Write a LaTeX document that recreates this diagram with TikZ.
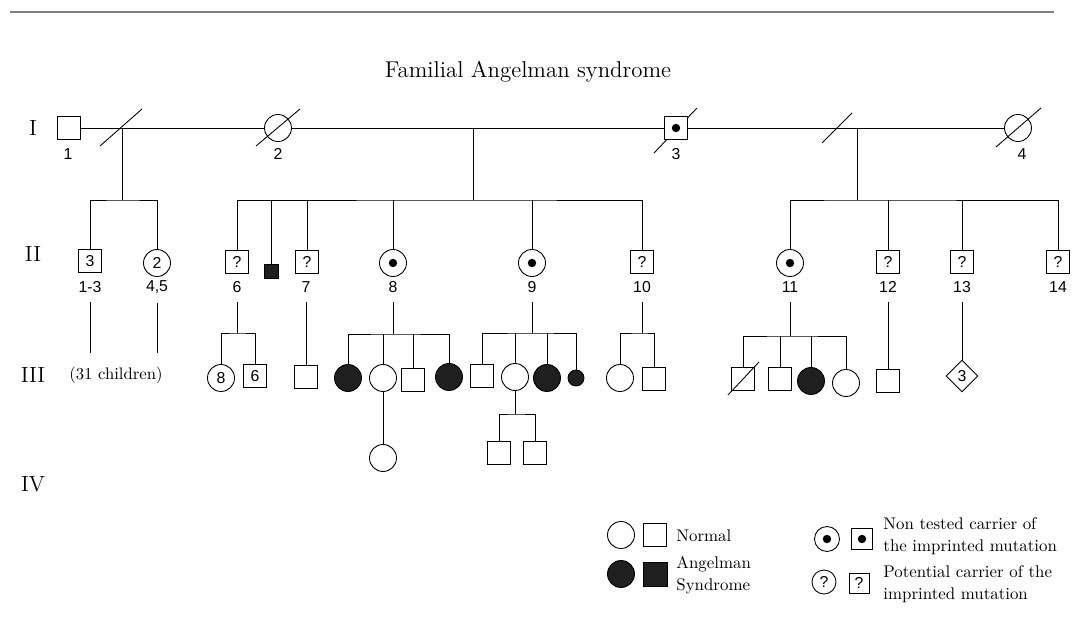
\documentclass[tikz,border=0pt]{standalone}
\usepackage{fontspec}
\newfontfamily\numfont{Liberation Sans}
\usepackage{tikz}
\usetikzlibrary{calc, shapes.geometric}

\begin{document}
\begin{tikzpicture}[x=0.02cm, y=-0.02cm, line width=0.5pt,
  ped/.style={draw, fill=white, inner sep=0pt, font=\numfont\fontsize{9}{10}\selectfont},
  male/.style={ped, rectangle, minimum size=0.46cm},
  female/.style={ped, circle, minimum size=0.54cm},
  nosex/.style={ped, diamond, minimum width=0.64cm, minimum height=0.64cm},
  ill/.style={fill=black!88},
  tag/.style={font=\numfont\fontsize{9}{10}\selectfont, inner sep=1pt},
  gen/.style={font=\fontsize{12.5}{15}\selectfont},
  legend/.style={font=\fontsize{9.6}{12.5}\selectfont, align=left, anchor=west, inner sep=0pt}]
  \useasboundingbox (0,0) rectangle (1076,632);

  % Rule and title
  \draw[black!50, line width=1.5pt] (10,12) -- (1054,12);
  \node[font=\fontsize{13}{15}\selectfont] (title) at (528,72) {Familial Angelman syndrome};

  % Generation labels
  \foreach \g/\y in {I/128, II/254, III/375, IV/484}
    \node[gen] (g\g) at (33,\y) {\g};

  % Generation I
  \coordinate (c3) at (676,128);
  \draw ($(c3)+(-22,25)$) -- ($(c3)+(21,-20)$);
  \node[male] (i1) at (69,128) {};
  \node[female] (i2) at (278,128) {};
  \node[male] (i3) at (c3) {};
  \node[female] (i4) at (1018,128) {};
  \fill (i3) circle (2.4pt);
  \draw (i1) -- (i2) -- (i3) -- (i4);
  \draw ($(i2)+(-22,18)$) -- ($(i2)+(22,-19)$);
  \draw ($(i4)+(-22,19)$) -- ($(i4)+(23,-20)$);
  \foreach \n/\x in {1/68, 2/278, 3/676, 4/1022}
    \node[tag] (t\n) at (\x,154) {\n};

  % Mating line marks and drops
  \coordinate (m12) at (122,128);
  \coordinate (m23) at (473,128);
  \coordinate (m34) at (837,128);
  \coordinate (m34d) at (857,128);
  \draw ($(m12)+(-22,18)$) -- ($(m12)+(20,-19)$);
  \draw ($(m34)+(-15,15)$) -- ($(m34)+(15,-15)$);
  \coordinate (b12) at (122,200);
  \coordinate (b23) at (473,200);
  \coordinate (b34) at (857,200);

  % Generation II
  \node[male] (p1to3) at (90,261) {3};
  \node[female] (p4and5) at (157,263) {2};
  \foreach \n/\x in {6/237, 7/307, 10/642, 12/888, 13/962, 14/1058}
    \node[male] (p\n) at (\x,262) {?};
  \node[male, ill, minimum size=0.28cm] (pA) at (271,271) {};
  \foreach \n/\x in {8/393, 9/532, 11/790}
    {
      \node[female] (p\n) at (\x,263) {};
      \fill (p\n) circle (2.4pt);
    }
  \node[tag] (l1to3) at (90,287) {1-3};
  \node[tag] (l4and5) at (157,287) {4,5};
  \foreach \n/\x in {6/237, 7/306, 8/393, 9/532, 10/642, 11/790, 12/888, 13/962, 14/1058}
    \node[tag] (l\n) at (\x,287) {\n};

  \draw (m12) -- (b12);
  \draw (p1to3) |- (b12) -| (p4and5);
  \draw (m23) -- (b23);
  \draw (p6) |- (b23) -| (p10);
  \foreach \c in {pA, p7, p8, p9}
    \draw (\c) -- (\c |- b23);
  \draw (m34d) -- (b34);
  \draw (p11) |- (b34) -| (p14);
  \foreach \c in {p12, p13}
    \draw (\c) -- (\c |- b34);

  % Generation III
  \node[font=\fontsize{9.5}{11}\selectfont] (kids) at (116,375) {(31 children)};
  \coordinate (e1) at (90,353);
  \coordinate (e2) at (157,353);
  \draw[shorten <=4pt] (l1to3) -- (e1);
  \draw[shorten <=4pt] (l4and5) -- (e2);

  \node[female] (q1) at (221,378) {8};
  \node[male] (q2) at (255,376) {6};
  \node[male] (q3) at (306,377) {};
  \node[female, ill] (q4) at (348,378) {};
  \node[female] (q5) at (383,378) {};
  \node[male] (q6) at (413,380) {};
  \node[female, ill] (q7) at (449,377) {};
  \node[male] (q8) at (482,376) {};
  \node[female] (q9) at (515,377) {};
  \node[female, ill] (q10) at (547,378) {};
  \node[female, ill, minimum size=0.32cm] (q11) at (576,378) {};
  \node[female] (q12) at (620,378) {};
  \node[male] (q13) at (654,379) {};
  \node[male] (q14) at (743,379) {};
  \node[male] (q15) at (780,379) {};
  \node[female, ill] (q16) at (811,381) {};
  \node[female] (q17) at (846,383) {};
  \node[male] (q18) at (888,381) {};
  \node[nosex] (q19) at (962,376) {3};
  \draw ($(q14)+(-15,16)$) -- ($(q14)+(16,-17)$);

  \coordinate (b6) at (237,333);
  \coordinate (b8) at (393,334);
  \coordinate (b9) at (532,333);
  \coordinate (b10) at (642,333);
  \coordinate (b11) at (790,336);
  \foreach \n in {6, 8, 9, 10, 11}
    \draw[shorten <=4pt] (l\n) -- (b\n);
  \draw (q1) |- (b6) -| (q2);
  \draw[shorten <=4pt] (l7) -- (q3);
  \draw (q4) |- (b8) -| (q7);
  \foreach \c in {q5, q6}
    \draw (\c) -- (\c |- b8);
  \draw (q8) |- (b9) -| (q11);
  \foreach \c in {q9, q10}
    \draw (\c) -- (\c |- b9);
  \draw (q12) |- (b10) -| (q13);
  \draw (q14) |- (b11) -| (q17);
  \foreach \c in {q15, q16}
    \draw (\c) -- (\c |- b11);
  \draw[shorten <=4pt] (l12) -- (q18);
  \draw[shorten <=4pt] (l13) -- (q19);

  % Generation IV
  \node[female] (r1) at (383,458) {};
  \node[male] (r2) at (499,453) {};
  \node[male] (r3) at (535,453) {};
  \coordinate (b15) at (515,414);
  \draw (q5) -- (r1);
  \draw (q9) -- (b15);
  \draw (r2) |- (b15) -| (r3);

  % Legend
  \node[female] (k1) at (621,535) {};
  \node[male] (k2) at (655,535) {};
  \node[legend] (k3) at (676,536) {Normal};
  \node[female, ill] (k4) at (621,574) {};
  \node[male, ill, minimum size=0.48cm] (k5) at (655,574) {};
  \node[legend] (k6) at (676,575) {Angelman\\Syndrome};
  \node[female, minimum size=0.5cm] (k7) at (827,539) {};
  \node[male, minimum size=0.42cm] (k8) at (862,539) {};
  \fill (k7) circle (2.4pt);
  \fill (k8) circle (2.4pt);
  \node[legend] (k9) at (883,536) {Non tested carrier of\\the imprinted mutation};
  \node[female, minimum size=0.48cm] (k10) at (824,582) {?};
  \node[male, minimum size=0.4cm] (k11) at (859,583) {?};
  \node[legend] (k12) at (883,584) {Potential carrier of the\\imprinted mutation};
\end{tikzpicture}
\end{document}
